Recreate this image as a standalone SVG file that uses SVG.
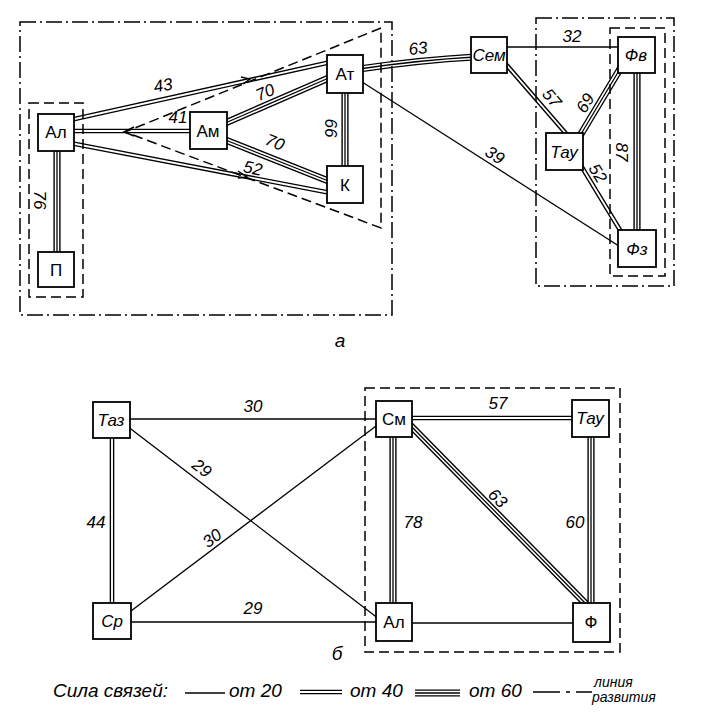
<svg xmlns="http://www.w3.org/2000/svg" width="719" height="722" viewBox="0 0 719 722">
<style>
.bg{fill:#fff}
.box{fill:#fff;stroke:#000;stroke-width:1.8}
.s1{stroke:#000;stroke-width:1.3;fill:none}
.d2o{stroke:#000;stroke-width:4.6;fill:none}
.d2i{stroke:#fff;stroke-width:1.9;fill:none}
.t3o{stroke:#000;stroke-width:7.2;fill:none}
.t3i{stroke:#fff;stroke-width:4.4;fill:none}
.t3c{stroke:#000;stroke-width:1.3;fill:none}
.dash{fill:none;stroke:#000;stroke-width:1.5;stroke-dasharray:10 5}
.dd{fill:none;stroke:#000;stroke-width:1.5;stroke-dasharray:16 4 2 4}
.arr{fill:none;stroke:#000;stroke-width:1.4}
text{font-family:"Liberation Sans",Arial,sans-serif;fill:#000}
.n{font-size:17px;text-anchor:middle}
.ni{font-size:17px;text-anchor:middle;font-style:italic}
.lb{font-size:17px;text-anchor:middle;font-style:italic}
.cap{font-size:19px;text-anchor:middle;font-style:italic}
.lg{font-size:19px;font-style:italic}
.lgs{font-size:14px;font-style:italic}
</style>
<rect class="bg" x="0" y="0" width="719" height="722"/>

<g id="connectors">
  <!-- top diagram -->
  <g id="e-al-p"><line class="t3o" x1="57" y1="147" x2="57" y2="256"/><line class="t3i" x1="57" y1="147" x2="57" y2="256"/><line class="t3c" x1="57" y1="147" x2="57" y2="256"/></g>
  <g id="e-al-at"><line class="d2o" x1="70" y1="120" x2="331" y2="62"/><line class="d2i" x1="70" y1="120" x2="331" y2="62"/></g>
  <g id="e-al-am"><line class="d2o" x1="70" y1="131" x2="194" y2="131"/><line class="d2i" x1="70" y1="131" x2="194" y2="131"/></g>
  <g id="e-al-k"><line class="d2o" x1="70" y1="143" x2="331" y2="193"/><line class="d2i" x1="70" y1="143" x2="331" y2="193"/></g>
  <g id="e-am-at"><line class="t3o" x1="223" y1="124" x2="331" y2="77"/><line class="t3i" x1="223" y1="124" x2="331" y2="77"/><line class="t3c" x1="223" y1="124" x2="331" y2="77"/></g>
  <g id="e-am-k"><line class="t3o" x1="223" y1="139" x2="331" y2="182"/><line class="t3i" x1="223" y1="139" x2="331" y2="182"/><line class="t3c" x1="223" y1="139" x2="331" y2="182"/></g>
  <g id="e-at-k"><line class="t3o" x1="345" y1="89" x2="345" y2="170"/><line class="t3i" x1="345" y1="89" x2="345" y2="170"/><line class="t3c" x1="345" y1="89" x2="345" y2="170"/></g>
  <g id="e-at-sem"><path class="t3o" d="M359,69 Q420,60 475,57"/><path class="t3i" d="M359,69 Q420,60 475,57"/><path class="t3c" d="M359,69 Q420,60 475,57"/></g>
  <g id="e-at-fz"><line class="s1" x1="359" y1="80" x2="622" y2="248"/></g>
  <g id="e-sem-fv"><line class="s1" x1="503" y1="47" x2="622" y2="47"/></g>
  <g id="e-sem-tau"><line class="d2o" x1="504" y1="62" x2="569" y2="137"/><line class="d2i" x1="504" y1="62" x2="569" y2="137"/></g>
  <g id="e-tau-fv"><line class="t3o" x1="578" y1="139" x2="623" y2="64"/><line class="t3i" x1="578" y1="139" x2="623" y2="64"/><line class="t3c" x1="578" y1="139" x2="623" y2="64"/></g>
  <g id="e-tau-fz"><line class="d2o" x1="580" y1="164" x2="623" y2="235"/><line class="d2i" x1="580" y1="164" x2="623" y2="235"/></g>
  <g id="e-fv-fz"><line class="t3o" x1="637" y1="69" x2="637" y2="234"/><line class="t3i" x1="637" y1="69" x2="637" y2="234"/><line class="t3c" x1="637" y1="69" x2="637" y2="234"/></g>
  <!-- direction marks -->
  <path class="arr" d="M241,77 L250,79 L243,84"/>
  <path class="arr" d="M238,171 L247,177 L238,178"/>
  <path class="arr" d="M134,127 L124,132 L134,136"/>

  <!-- bottom diagram -->
  <g id="e-taz-sm"><line class="s1" x1="126" y1="419" x2="380" y2="419"/></g>
  <g id="e-taz-al"><line class="s1" x1="127" y1="426" x2="379" y2="619"/></g>
  <g id="e-sr-sm"><line class="s1" x1="127" y1="614" x2="380" y2="423"/></g>
  <g id="e-sr-al"><line class="s1" x1="127" y1="622" x2="380" y2="622"/></g>
  <g id="e-taz-sr"><line class="d2o" x1="112" y1="434" x2="112" y2="607"/><line class="d2i" x1="112" y1="434" x2="112" y2="607"/></g>
  <g id="e-sm-tau"><line class="d2o" x1="408" y1="418" x2="576" y2="418"/><line class="d2i" x1="408" y1="418" x2="576" y2="418"/></g>
  <g id="e-sm-al"><line class="t3o" x1="393" y1="433" x2="393" y2="607"/><line class="t3i" x1="393" y1="433" x2="393" y2="607"/><line class="t3c" x1="393" y1="433" x2="393" y2="607"/></g>
  <g id="e-sm-f"><line class="t3o" x1="410" y1="425" x2="588" y2="606"/><line class="t3i" x1="410" y1="425" x2="588" y2="606"/><line class="t3c" x1="410" y1="425" x2="588" y2="606"/></g>
  <g id="e-tau-f"><line class="t3o" x1="591" y1="433" x2="591" y2="607"/><line class="t3i" x1="591" y1="433" x2="591" y2="607"/><line class="t3c" x1="591" y1="433" x2="591" y2="607"/></g>
  <g id="e-al-f"><line class="s1" x1="408" y1="623" x2="577" y2="623"/></g>
</g>

<g id="boundaries">
  <rect class="dd" x="20" y="22" width="372" height="293"/>
  <rect class="dash" x="29" y="103" width="54" height="194"/>
  <path class="dash" d="M381,28 L125,132 L381,228 Z"/>
  <rect class="dd" x="536" y="18" width="138" height="268"/>
  <rect class="dash" x="610" y="28" width="55" height="248"/>
  <rect class="dash" x="365" y="388" width="255" height="264"/>
</g>

<g id="edge-labels">
  <text class="lb" x="163" y="91" transform="rotate(-10 163 85)">43</text>
  <text class="lb" x="178" y="123">41</text>
  <text class="lb" x="253" y="174" transform="rotate(11 253 168)">52</text>
  <text class="lb" x="265" y="98" transform="rotate(-23 265 92)">70</text>
  <text class="lb" x="275" y="148" transform="rotate(22 275 142)">70</text>
  <text class="lb" x="331" y="134" transform="rotate(90 331 128)">66</text>
  <text class="lb" x="40" y="206" transform="rotate(90 40 200)">76</text>
  <text class="lb" x="418" y="54" transform="rotate(-6 418 48)">63</text>
  <text class="lb" x="495" y="161" transform="rotate(33 495 155)">39</text>
  <text class="lb" x="572" y="42">32</text>
  <text class="lb" x="552" y="104" transform="rotate(50 552 98)">57</text>
  <text class="lb" x="585" y="109" transform="rotate(-59 585 103)">69</text>
  <text class="lb" x="622" y="158" transform="rotate(90 622 152)">87</text>
  <text class="lb" x="598" y="179" transform="rotate(58 598 173)">52</text>

  <text class="lb" x="253" y="412">30</text>
  <text class="lb" x="202" y="474" transform="rotate(37 202 468)">29</text>
  <text class="lb" x="96" y="528">44</text>
  <text class="lb" x="212" y="544" transform="rotate(-37 212 538)">30</text>
  <text class="lb" x="253" y="614">29</text>
  <text class="lb" x="498" y="409">57</text>
  <text class="lb" x="413" y="528">78</text>
  <text class="lb" x="498" y="504" transform="rotate(45 498 498)">63</text>
  <text class="lb" x="575" y="528">60</text>
</g>

<!-- top nodes -->
<g id="n-al"><rect class="box" x="38" y="114" width="36" height="37"/><text class="n" x="56" y="138">Ал</text></g>
<g id="n-p"><rect class="box" x="38" y="252" width="36" height="35"/><text class="n" x="56" y="276">П</text></g>
<g id="n-am"><rect class="box" x="190" y="112" width="37" height="37"/><text class="n" x="208" y="137">Ам</text></g>
<g id="n-at"><rect class="box" x="327" y="55" width="36" height="38"/><text class="n" x="345" y="80">Ат</text></g>
<g id="n-k"><rect class="box" x="327" y="166" width="36" height="37"/><text class="n" x="345" y="191">К</text></g>
<g id="n-sem"><rect class="box" x="471" y="37" width="36" height="36"/><text class="ni" x="489" y="61">Сем</text></g>
<g id="n-fv"><rect class="box" x="618" y="37" width="37" height="36"/><text class="ni" x="636" y="61">Фв</text></g>
<g id="n-tau"><rect class="box" x="546" y="133" width="37" height="37"/><text class="ni" x="564" y="158">Тау</text></g>
<g id="n-fz"><rect class="box" x="618" y="230" width="38" height="37"/><text class="ni" x="637" y="255">Фз</text></g>

<!-- bottom nodes -->
<g id="n-taz"><rect class="box" x="93" y="402" width="37" height="36"/><text class="ni" x="111" y="426">Таз</text></g>
<g id="n-sr"><rect class="box" x="93" y="603" width="38" height="36"/><text class="ni" x="112" y="627">Ср</text></g>
<g id="n-sm"><rect class="box" x="376" y="401" width="36" height="36"/><text class="n" x="394" y="425">См</text></g>
<g id="n-tau2"><rect class="box" x="572" y="400" width="37" height="37"/><text class="ni" x="590" y="424">Тау</text></g>
<g id="n-al2"><rect class="box" x="376" y="603" width="36" height="38"/><text class="n" x="394" y="628">Ал</text></g>
<g id="n-f"><rect class="box" x="573" y="603" width="37" height="39"/><text class="n" x="591" y="628">Ф</text></g>

<g id="captions">
  <text class="cap" x="340" y="347">а</text>
  <text class="cap" x="337" y="660">б</text>
</g>

<g id="legend">
  <text class="lg" x="53" y="697">Сила связей:</text>
  <line class="s1" x1="185" y1="693" x2="225" y2="693"/>
  <text class="lg" x="229" y="697">от 20</text>
  <line class="d2o" x1="300" y1="692" x2="342" y2="692"/><line class="d2i" x1="300" y1="692" x2="342" y2="692"/>
  <text class="lg" x="350" y="697">от 40</text>
  <line class="t3o" x1="415" y1="693" x2="460" y2="693"/><line class="t3i" x1="415" y1="693" x2="460" y2="693"/><line class="t3c" x1="415" y1="693" x2="460" y2="693"/>
  <text class="lg" x="469" y="697">от 60</text>
  <path class="s1" d="M533,692 H560 M566,692 H570 M576,692 H592"/>
  <text class="lgs" x="594" y="687">линия</text>
  <text class="lgs" x="592" y="702">развития</text>
</g>
</svg>
